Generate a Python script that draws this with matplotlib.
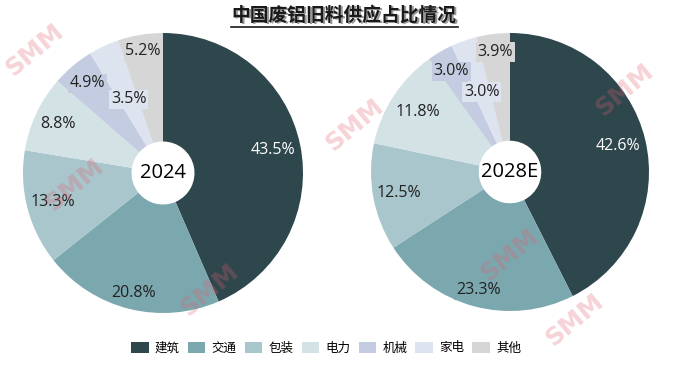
import matplotlib.pyplot as plt
from matplotlib.lines import Line2D
from matplotlib.patches import Patch
import numpy as np

plt.rcParams['font.family'] = ['Noto Sans CJK SC', 'DejaVu Sans']

categories = ['建筑', '交通', '包装', '电力', '机械', '家电', '其他']
share_2024 = [43.5, 20.8, 13.3, 8.8, 4.9, 3.5, 5.2]
share_2028 = [42.6, 23.3, 12.5, 11.8, 3.0, 3.0, 3.9]
years = ['2024', '2028E']
colors = ['#2E474D', '#7BA7AF', '#A8C6CB', '#D3E2E5', '#C3CCE0', '#DDE3EF', '#D6D6D6']

# 标签离圆心的距离（相对半径）
lbl_r_2024 = [0.80, 0.88, 0.81, 0.83, 0.84, 0.58, 0.88]
lbl_r_2028 = [0.80, 0.88, 0.81, 0.79, 0.84, 0.61, 0.87]

W, H = 696, 373
fig = plt.figure(figsize=(W / 100, H / 100), dpi=100)


def donut(cx, cy, r, values, year, radii):
    ax = fig.add_axes([(cx - r) / W, (H - cy - r) / H, 2 * r / W, 2 * r / H])
    ax.pie(values, colors=colors, startangle=90, counterclock=False,
           radius=1, wedgeprops=dict(width=0.775, linewidth=0))
    total = sum(values)
    cum = 0
    for i, v in enumerate(values):
        mid = 90 - 360 * (cum + v / 2) / total
        cum += v
        a = np.deg2rad(mid)
        x, y = radii[i] * np.cos(a), radii[i] * np.sin(a)
        ax.text(x, y, f'{v:.1f}%', ha='center', va='center', fontsize=11.5,
                family=['Open Sans', 'DejaVu Sans'],
                color='white' if i == 0 else '#222222',
                bbox=dict(boxstyle='square,pad=0.1', fc=colors[i], ec='none'))
    ax.text(0, 0, year, ha='center', va='center', fontsize=14.5,
            family=['Open Sans', 'DejaVu Sans'], color='black')
    ax.set_xlim(-1, 1)
    ax.set_ylim(-1, 1)
    ax.set_aspect('equal')
    ax.axis('off')


donut(163, 173, 140, share_2024, years[0], lbl_r_2024)
donut(510, 172, 139, share_2028, years[1], lbl_r_2028)

# 水印
for (wx, wy) in [(75, 185), (210, 290), (355, 125), (625, 90), (510, 255), (575, 320), (35, 50)]:
    fig.text(wx / W, 1 - wy / H, 'SMM', ha='center', va='center', fontsize=18,
             fontweight='bold', color='#e06070', alpha=0.28, rotation=40,
             family=['DejaVu Sans'])

# 标题（加粗 + 下划线）
title = '中国废铝旧料供应占比情况'
fig.text(344 / W + 0.002, 1 - 15 / H - 0.004, title, ha='center', va='center',
         fontsize=13.5, fontweight='bold', color='#999999')
fig.text(344 / W, 1 - 15 / H, title, ha='center', va='center',
         fontsize=13.5, fontweight='bold', color='#1a1a1a')
fig.add_artist(Line2D([231 / W, 458 / W], [1 - 27 / H, 1 - 27 / H], color='#1a1a1a', lw=1.2))

handles = [Patch(facecolor=c, edgecolor='none') for c in colors]
fig.legend(handles, categories, loc='center', bbox_to_anchor=(326 / W, 1 - 348 / H),
           ncol=7, frameon=False, fontsize=9, handlelength=1.4, handleheight=1.0,
           handletextpad=0.5, columnspacing=0.65)

plt.savefig('out.png', dpi=100)
